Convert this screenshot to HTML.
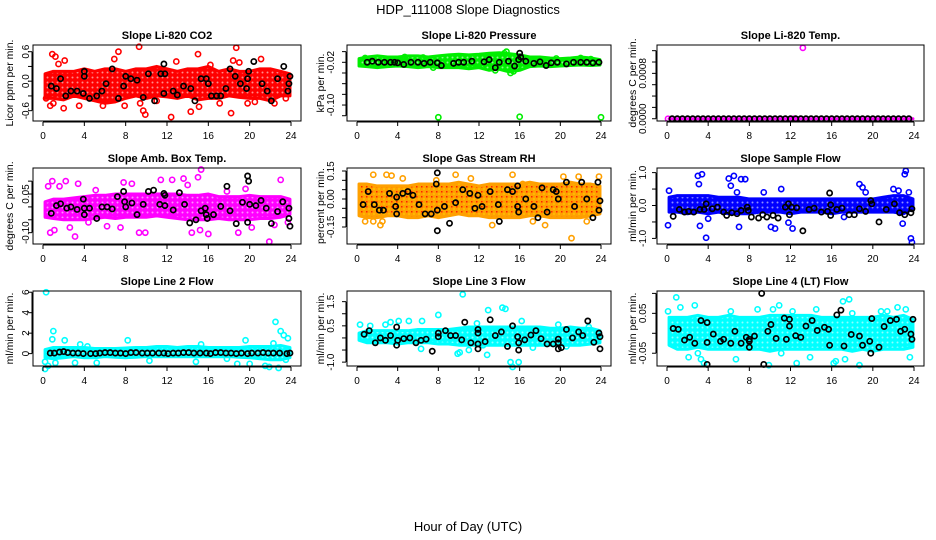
<!DOCTYPE html>
<html><head><meta charset="utf-8"><style>
html,body{margin:0;padding:0;background:#fff;}
svg{display:block;font-family:"Liberation Sans",sans-serif;}
</style></head><body>
<svg id="chart" width="936" height="540" viewBox="0 0 936 540">
<defs id="defs"></defs>
<text x="468" y="14" text-anchor="middle" font-size="13">HDP_111008  Slope Diagnostics</text>
<text x="468" y="531" text-anchor="middle" font-size="13">Hour of Day (UTC)</text>
</svg>
<script>
const xTicks=[0,4,8,12,16,20,24];
const bandHours=[0,1,2,3,4,5,6,7,8,9,10,11,12,13,14,15,16,17,18,19,20,21,22,23,24];

const co2Lo=[-0.35,-0.35,-0.38,-0.3,-0.35,-0.4,-0.45,-0.42,-0.35,-0.3,-0.35,-0.3,-0.32,-0.35,-0.3,-0.38,-0.35,-0.35,-0.3,-0.33,-0.35,-0.35,-0.4,-0.3,-0.3];
const co2Hi=[0.15,0.2,0.2,0.2,0.25,0.2,0.25,0.25,0.2,0.25,0.25,0.3,0.25,0.2,0.25,0.25,0.3,0.2,0.25,0.2,0.2,0.25,0.25,0.2,0.15];
const co2Out=[[0.9,0.55],[1.2,0.5],[0.7,-0.5],[1,-0.45],[2,-0.55],[1.5,0.35],[2.1,0.42],[3.5,-0.5],[6.9,0.45],[7.3,0.6],[7.9,-0.5],[9.3,0.7],[9.4,-0.45],[9.7,-0.6],[9.9,-0.68],[12.4,-0.73],[12.9,0.4],[14.3,-0.62],[15,0.55],[15.1,-0.52],[17.1,-0.45],[18.2,-0.65],[18.7,0.68],[18.4,0.42],[19,0.38],[21.1,0.45],[22.4,-0.45],[19.8,-0.45],[0.3,-0.35],[5.8,-0.5],[11,-0.4],[16.2,0.33],[20.5,-0.42],[23.5,-0.35]];
const co2Blk=[[0.8,-0.1],[1.3,-0.15],[1.7,0.05],[2.2,-0.3],[2.7,-0.2],[3.3,-0.2],[3.9,-0.25],[4,0.2],[4,0.1],[4.5,-0.35],[5.2,-0.3],[5.7,-0.2],[6.1,-0.05],[6.7,0.25],[7.3,-0.35],[7.8,-0.1],[8,0.1],[8.5,0.05],[9.1,0.02],[9.7,-0.33],[10.2,0.15],[10.8,-0.4],[11.4,0.15],[11.7,-0.25],[11.8,0.15],[11.7,0.35],[12.6,-0.2],[13,-0.28],[13.6,-0.1],[14.3,-0.15],[14.7,-0.4],[15.3,0.05],[15.8,0.05],[16,-0.05],[16.3,-0.3],[16.8,-0.3],[17.2,-0.3],[17.7,-0.15],[18.1,0.25],[18.6,0.1],[19.1,-0.05],[19.7,-0.15],[19.8,0.05],[19.9,0.2],[20.4,0.4],[21.2,-0.05],[21.7,-0.2],[22.1,-0.4],[22.7,0.05],[23.3,0.3],[23.7,-0.2],[23.8,-0.05],[23.9,0.1]];

const presLo=[-0.027,-0.028,-0.03,-0.028,-0.027,-0.028,-0.03,-0.028,-0.03,-0.03,-0.03,-0.032,-0.03,-0.035,-0.033,-0.038,-0.035,-0.028,-0.027,-0.028,-0.027,-0.026,-0.025,-0.026,-0.025];
const presHi=[-0.013,-0.01,-0.008,-0.01,-0.01,-0.008,-0.008,-0.01,-0.008,-0.006,-0.005,-0.006,-0.005,-0.003,-0.002,-0.004,-0.006,-0.01,-0.01,-0.012,-0.013,-0.012,-0.01,-0.012,-0.015];
const presOut=[[8,-0.123],[16,-0.122],[24,-0.123],[0.8,-0.012],[2.1,-0.012],[4.7,-0.01],[6.5,-0.011],[14.5,-0.003],[14.7,0.0],[13.6,-0.035],[15.1,-0.04],[15.4,-0.037],[7.5,-0.03],[19.6,-0.013],[22,-0.012],[23,-0.014]];
const presBlk=[[1,-0.02],[1.5,-0.018],[2.1,-0.02],[2.7,-0.02],[3.3,-0.02],[3.7,-0.02],[4,-0.021],[4.6,-0.024],[5.3,-0.02],[6,-0.02],[6.6,-0.022],[7.2,-0.02],[7.9,-0.021],[8.3,-0.026],[9.5,-0.022],[10,-0.02],[10.5,-0.02],[11.3,-0.018],[12.5,-0.019],[13,-0.015],[13.6,-0.03],[14,-0.02],[14.9,-0.018],[15.5,-0.027],[15.9,-0.015],[16,-0.003],[16.1,-0.01],[16.6,-0.018],[17.4,-0.022],[18,-0.019],[18.6,-0.026],[19.1,-0.021],[19.7,-0.02],[20.6,-0.023],[21.3,-0.02],[22,-0.02],[22.6,-0.02],[23.2,-0.021],[23.8,-0.02]];

const tempLo=[0,0,0,0,0,0,0,0,0,0,0,0,0,0,0,0,0,0,0,0,0,0,0,0,0];
const tempHi=[0,0,0,0,0,0,0,0,0,0,0,0,0,0,0,0,0,0,0,0,0,0,0,0,0];
const tempOut=[[13.2,0.00125],[0.1,0],[12.3,0]];
const tempBlk=[[0.5,0],[1,0],[1.5,0],[2,0],[2.5,0],[3,0],[3.5,0],[4,0],[4.5,0],[5,0],[5.5,0],[6,0],[6.5,0],[7,0],[7.5,0],[8,0],[8.5,0],[9,0],[9.5,0],[10,0],[10.5,0],[11,0],[11.5,0],[12,0],[12.5,0],[13,0],[13.5,0],[14,0],[14.5,0],[15,0],[15.5,0],[16,0],[16.5,0],[17,0],[17.5,0],[18,0],[18.5,0],[19,0],[19.5,0],[20,0],[20.5,0],[21,0],[21.5,0],[22,0],[22.5,0],[23,0],[23.5,0]];

const ambLo=[-0.04,-0.045,-0.05,-0.05,-0.05,-0.045,-0.04,-0.045,-0.04,-0.04,-0.04,-0.035,-0.04,-0.045,-0.05,-0.05,-0.05,-0.045,-0.05,-0.05,-0.05,-0.045,-0.045,-0.04,-0.03];
const ambHi=[0.02,0.03,0.03,0.035,0.04,0.045,0.045,0.05,0.05,0.05,0.05,0.05,0.05,0.05,0.045,0.045,0.05,0.04,0.04,0.04,0.045,0.04,0.04,0.04,0.03];
const ambOut=[[0.5,0.08],[0.9,0.1],[1.6,0.08],[2.2,0.1],[0.7,-0.1],[1.1,-0.09],[2.6,-0.08],[3.1,-0.115],[3.4,0.09],[4.4,-0.06],[5.1,0.065],[6.2,-0.075],[7.5,-0.08],[7.8,0.095],[8.6,0.09],[9.3,-0.1],[9.9,-0.1],[11.4,0.105],[12.5,0.105],[13.6,0.11],[14,0.085],[14.4,-0.1],[15,0.115],[15.3,0.145],[15.2,-0.09],[16,-0.105],[17.8,0.06],[18.9,-0.1],[19.6,0.07],[20.2,-0.08],[21.9,-0.135],[22.4,-0.07],[23,0.105],[23.7,-0.06]];
const ambBlk=[[0.8,-0.025],[1.3,0.005],[1.7,0.012],[2.3,-0.005],[2.7,0],[3.3,-0.01],[3.9,0.03],[4,-0.005],[4,-0.03],[4.5,-0.005],[5.2,-0.045],[5.7,0],[6.2,0],[6.7,-0.008],[7.2,0.04],[7.8,0.06],[7.9,0.02],[8,0],[8.6,0.015],[9.1,-0.03],[9.7,0.01],[10.2,0.06],[10.7,0.065],[11.3,0.01],[11.7,0.052],[11.8,0.045],[11.8,0.005],[12.6,-0.012],[13.2,0.055],[13.7,0.01],[14.2,-0.062],[14.8,-0.05],[15.3,-0.015],[15.7,-0.005],[15.8,-0.03],[15.9,-0.045],[16.5,-0.03],[17.2,0.002],[17.8,0.08],[18.1,-0.015],[18.7,-0.065],[19.3,0.018],[19.8,-0.06],[19.9,0.1],[19.8,0.12],[20,0.01],[20.6,0.005],[21.1,0.025],[21.6,-0.005],[22.1,-0.064],[22.7,-0.018],[23.2,0.02],[23.8,-0.005],[23.8,-0.045],[23.9,-0.075]];

const rhLo=[-0.09,-0.1,-0.1,-0.09,-0.09,-0.1,-0.1,-0.09,-0.1,-0.09,-0.08,-0.09,-0.09,-0.1,-0.1,-0.1,-0.1,-0.09,-0.09,-0.1,-0.1,-0.1,-0.1,-0.09,-0.08];
const rhHi=[0.08,0.08,0.07,0.07,0.07,0.07,0.08,0.08,0.08,0.08,0.09,0.08,0.07,0.08,0.08,0.08,0.08,0.09,0.08,0.08,0.08,0.09,0.08,0.08,0.07];
const rhOut=[[1.6,0.13],[2.9,0.13],[3.4,0.125],[4.5,0.11],[0.8,-0.12],[1.6,-0.12],[2.3,-0.14],[2.5,-0.12],[9.7,0.13],[7.8,0.1],[11.2,0.11],[15.3,0.13],[13.3,-0.14],[17.3,-0.12],[18.5,-0.14],[21.1,-0.21],[20.3,0.12],[21.8,0.12],[22.6,-0.12],[23.8,0.12],[16.3,0.08]];
const rhBlk=[[0.6,-0.03],[1.1,0.04],[1.7,-0.03],[2.2,-0.06],[2.6,-0.06],[3.2,0.03],[3.8,-0.04],[3.9,0.01],[3.9,-0.08],[4.5,0.03],[5,0.04],[5.5,0.02],[6.1,-0.03],[6.7,-0.08],[7.3,-0.08],[7.9,0.14],[7.8,0.08],[7.9,-0.06],[7.9,-0.17],[8.6,-0.04],[9.1,-0.13],[9.7,-0.02],[10.4,0.05],[11.1,0.03],[11.6,-0.05],[11.9,0.02],[12.3,-0.04],[13.1,0.04],[13.9,-0.03],[14,-0.12],[14.8,0.05],[15.3,0.04],[15.8,0.07],[15.8,-0.04],[15.9,-0.07],[16.6,0.0],[17.4,-0.04],[17.8,-0.1],[18.2,0.06],[18.7,-0.07],[19.3,0.05],[19.6,0.04],[19.8,0.0],[20.6,0.09],[21.4,-0.04],[22.1,0.09],[22.6,0.0],[23.2,-0.1],[23.7,0.09],[23.8,-0.06],[23.9,-0.01]];

const sfLo=[-0.2,-0.2,-0.25,-0.2,-0.25,-0.2,-0.25,-0.25,-0.25,-0.2,-0.2,-0.2,-0.25,-0.2,-0.2,-0.2,-0.25,-0.2,-0.2,-0.2,-0.2,-0.2,-0.2,-0.25,-0.1];
const sfHi=[0.25,0.3,0.3,0.3,0.3,0.25,0.25,0.25,0.2,0.2,0.2,0.2,0.2,0.2,0.2,0.2,0.2,0.2,0.2,0.2,0.2,0.25,0.3,0.3,0.2];
const sfOut=[[0.1,-0.6],[0.2,0.45],[3,0.9],[3.1,0.65],[3.4,0.95],[3.2,-0.62],[3.8,-0.98],[4,-0.4],[6,0.82],[6.2,0.6],[6.5,0.9],[6.8,0.4],[7.2,0.8],[7.6,0.8],[7,-0.65],[10.1,-0.65],[10.5,-0.7],[11.1,0.5],[11.8,-0.52],[12.2,-0.7],[9.4,0.4],[18.7,0.65],[19,0.55],[19.3,0.4],[22,0.5],[22.5,0.45],[23.1,0.95],[23.2,1.05],[23.5,0.4],[23.7,-1.0],[23.8,-1.12],[22.9,-0.55],[17.2,-0.35]];
const sfBlk=[[0.6,-0.33],[1.2,-0.12],[1.7,-0.2],[2.1,-0.18],[2.6,-0.2],[3.2,-0.12],[3.6,-0.12],[3.8,0.05],[4.4,-0.1],[4.9,-0.05],[5.5,-0.2],[5.8,-0.3],[6.3,-0.22],[6.8,-0.25],[7.2,-0.15],[7.8,-0.05],[7.9,-0.15],[8.2,-0.35],[8.9,-0.38],[9.3,-0.28],[9.7,-0.35],[10.3,-0.3],[10.8,-0.38],[11.5,-0.05],[11.8,0.05],[11.9,-0.28],[12.1,-0.05],[12.6,-0.07],[13.2,-0.77],[13.8,-0.12],[14.3,-0.08],[15,-0.2],[15.6,-0.18],[15.8,0.38],[15.9,0.02],[15.9,-0.3],[16.5,-0.12],[17,-0.08],[17.7,-0.28],[18.2,-0.28],[18.7,-0.1],[19.3,-0.18],[19.8,0.15],[19.9,0.05],[20.6,-0.5],[21.3,-0.12],[22.1,0.05],[22.6,-0.22],[23.1,-0.28],[23.7,-0.22],[23.8,-0.1]];

const l2Lo=[-0.4,-0.5,-0.4,-0.3,-0.4,-0.4,-0.3,-0.35,-0.4,-0.35,-0.3,-0.3,-0.3,-0.3,-0.3,-0.3,-0.3,-0.3,-0.3,-0.35,-0.4,-0.5,-0.6,-0.6,-0.4];
const l2Hi=[0.4,0.6,0.6,0.6,0.6,0.5,0.5,0.5,0.55,0.6,0.6,0.7,0.7,0.6,0.7,0.7,0.6,0.6,0.6,0.6,0.7,0.7,0.7,0.8,0.6];
const l2Out=[[0.3,6],[1,2.2],[0.9,1.4],[0.2,-1.5],[0.5,-1.2],[0.2,-0.8],[1.2,-0.9],[2.1,1.3],[3.1,-0.9],[3.6,0.9],[4.3,0.7],[5.2,-0.9],[8.2,1.3],[10.3,-0.7],[14.8,-0.8],[15.3,0.9],[17.8,-0.5],[18.8,-1],[19.6,1.3],[20,-1],[21.5,-1.2],[22.5,3.1],[23,2.2],[23.3,1.8],[23.7,1.5],[22.8,-1.4],[22.3,1],[21.9,-1.3],[23.5,-0.6]];
const l2Blk=[[0.7,0.05],[1.1,0.05],[1.6,0.15],[2,0.2],[2.4,0.1],[2.9,0.05],[3.4,0.05],[3.9,0],[4.6,0],[5.1,0],[5.5,0.05],[6,0.1],[6.5,0.1],[7,0.05],[7.5,0.05],[8,0],[8.5,0.1],[9,0.1],[9.6,0.05],[10.1,0.05],[10.6,0.05],[11.2,0.05],[11.7,0.05],[12.1,0],[12.6,0.05],[13.1,0.05],[13.6,0.1],[14.1,0.1],[14.6,0.05],[15.2,0.05],[15.8,0.05],[16.2,0],[16.7,0.1],[17.2,0.1],[17.7,0.05],[18.2,0.05],[18.7,0],[19.2,0.05],[19.8,0],[20.2,0.05],[20.8,0.05],[21.3,0.1],[21.8,0.05],[22.3,0.05],[22.9,0.05],[23.6,0],[23.9,0.05]];

const l3Lo=[-0.1,-0.2,-0.2,-0.2,-0.25,-0.2,-0.2,-0.2,-0.25,-0.25,-0.3,-0.3,-0.3,-0.3,-0.3,-0.3,-0.3,-0.3,-0.3,-0.3,-0.3,-0.3,-0.3,-0.25,-0.2];
const l3Hi=[0.2,0.3,0.3,0.3,0.3,0.3,0.35,0.35,0.35,0.35,0.4,0.45,0.45,0.45,0.45,0.45,0.45,0.45,0.45,0.4,0.4,0.45,0.4,0.4,0.3];
const l3Out=[[0.3,0.55],[1.3,0.5],[2.8,0.55],[3.3,0.65],[4.1,0.7],[5.1,0.7],[6.4,0.7],[8,0.95],[10.4,1.8],[11,-0.5],[11.8,0.6],[12.4,-0.3],[12.8,-0.7],[12.9,1.15],[14.3,1.25],[14.6,1.2],[15.1,-1.0],[15.3,-1.2],[15.9,-1.0],[16.2,0.7],[9.9,-0.65],[10.1,-0.6],[6.3,-0.45],[19.8,0.55],[20.6,-0.35],[22.8,0.45],[17.3,-0.4]];
const l3Blk=[[0.7,0.15],[1.2,0.3],[1.8,-0.2],[2.3,0.0],[2.8,-0.1],[3.3,0.1],[3.9,0.45],[3.9,-0.3],[4,-0.1],[4.6,-0.03],[5.2,0],[5.8,-0.2],[6.3,-0.1],[6.8,-0.05],[7.4,-0.55],[8,0.05],[8,0.2],[8.7,0.3],[9.2,0.1],[9.7,0.1],[10.3,-0.08],[10.6,0.65],[11.2,-0.2],[11.9,0.35],[11.9,0.2],[11.9,-0.45],[11.9,-0.25],[12.6,-0.15],[13.1,0.75],[13.6,0.1],[14.2,0.25],[14.8,-0.35],[15.3,0.5],[15.8,0.05],[15.9,-0.2],[15.9,-0.5],[16.5,-0.08],[17.1,0.12],[17.6,0.3],[18.1,-0.03],[18.7,-0.25],[19.3,-0.25],[19.8,-0.05],[19.8,-0.2],[19.8,-0.45],[20.1,-0.4],[20.6,0.35],[21.2,0.0],[21.8,0.25],[22.2,0.1],[22.7,0.7],[23.3,-0.18],[23.8,0.2],[23.9,0.05],[23.9,-0.45]];

const l4Lo=[-0.03,-0.04,-0.04,-0.035,-0.04,-0.04,-0.04,-0.04,-0.04,-0.04,-0.045,-0.04,-0.04,-0.04,-0.04,-0.04,-0.04,-0.04,-0.045,-0.04,-0.045,-0.04,-0.04,-0.04,-0.035];
const l4Hi=[0.04,0.04,0.04,0.045,0.04,0.04,0.045,0.04,0.04,0.04,0.045,0.045,0.045,0.045,0.045,0.04,0.04,0.04,0.04,0.04,0.04,0.045,0.04,0.045,0.035];
const l4Out=[[0.1,0.055],[0.9,0.09],[1.3,0.065],[1.1,-0.035],[2.1,-0.06],[2.7,0.07],[3,-0.05],[3.3,-0.065],[3.6,-0.075],[6.2,0.055],[6.7,-0.065],[8.8,0.06],[9.9,-0.08],[10.3,0.06],[10.9,0.07],[11.1,-0.05],[12.2,0.055],[12.6,-0.075],[14.5,0.06],[13.9,-0.06],[16.2,-0.075],[16.4,-0.07],[17.1,0.08],[17.7,0.085],[17.3,-0.065],[18.7,-0.08],[18,0.05],[20.8,0.055],[21.4,0.055],[22.4,0.065],[23.6,-0.06],[23.2,0.06]];
const l4Blk=[[0.6,0.012],[1.1,0.01],[1.7,-0.017],[2.2,-0.01],[2.7,-0.025],[3.3,0.032],[3.9,-0.078],[3.9,0.027],[3.9,-0.023],[4.5,-0.002],[5.2,-0.02],[5.5,-0.015],[6.2,-0.025],[6.6,0.005],[7.2,-0.025],[7.7,-0.01],[8,-0.02],[8,-0.035],[8,-0.015],[8.5,-0.007],[9.2,0.1],[9.4,-0.078],[9.8,0.005],[10.1,0.022],[10.6,-0.013],[11.4,0.038],[11.6,-0.015],[11.9,0.035],[11.9,0.018],[12.5,-0.006],[13,-0.01],[13.5,0.018],[14.1,0.032],[14.6,0.007],[15.3,0.015],[15.7,0.01],[15.8,-0.03],[16.5,0.046],[16.9,0.058],[17.2,-0.032],[17.9,-0.003],[18.7,-0.007],[19,-0.03],[19.7,-0.02],[19.8,-0.05],[19.9,0.037],[20.6,-0.035],[21.1,0.017],[21.7,0.032],[22.3,0.035],[22.7,0.005],[23.1,0.01],[23.7,-0.002],[23.8,-0.015],[23.9,0.035]];

const NS='http://www.w3.org/2000/svg';
const svg=document.getElementById('chart');
const defs=document.getElementById('defs');
function mk(tag,attrs,parent){const e=document.createElementNS(NS,tag);for(const k in attrs)e.setAttribute(k,attrs[k]);(parent||svg).appendChild(e);return e;}

const panels=[
 {name:'co2',title:'Slope Li-820 CO2',ylab:'Licor ppm per min.',col:0,row:0,ymin:-0.81,ymax:0.736,ticks:[-0.6,-0.3,0,0.3,0.6],labels:[[-0.6,'-0.6'],[0,'0.0'],[0.6,'0.6']],color:'#ff0000',lo:co2Lo,hi:co2Hi,out:co2Out,blk:co2Blk},
 {name:'pressure',title:'Slope Li-820 Pressure',ylab:'kPa per min.',col:1,row:0,ymin:-0.1299,ymax:0.0124,ticks:[0,-0.02,-0.04,-0.06,-0.08,-0.1,-0.12],labels:[[-0.02,'-0.02'],[-0.1,'-0.10']],color:'#00ee00',lo:presLo,hi:presHi,out:presOut,blk:presBlk},
 {name:'temp',title:'Slope Li-820 Temp.',ylab:'degrees C per min.',col:2,row:0,ymin:-0.00004,ymax:0.0013,ticks:[0,0.0002,0.0004,0.0006,0.0008,0.001,0.0012],labels:[[0,'0.0000'],[0.0008,'0.0008']],color:'#ff00ff',lo:tempLo,hi:tempHi,out:tempOut,blk:tempBlk},
 {name:'amb-box-temp',title:'Slope Amb. Box Temp.',ylab:'degrees C per min.',col:0,row:1,ymin:-0.144,ymax:0.151,ticks:[-0.1,-0.05,0,0.05,0.1],labels:[[-0.1,'-0.10'],[0.05,'0.05']],color:'#ff00ff',lo:ambLo,hi:ambHi,out:ambOut,blk:ambBlk},
 {name:'gas-stream-rh',title:'Slope Gas Stream RH',ylab:'percent per min.',col:1,row:1,ymin:-0.241,ymax:0.166,ticks:[-0.15,-0.1,-0.05,0,0.05,0.1,0.15],labels:[[-0.15,'-0.15'],[0,'0.00'],[0.15,'0.15']],color:'#ffa000',lo:rhLo,hi:rhHi,out:rhOut,blk:rhBlk},
 {name:'sample-flow',title:'Slope Sample Flow',ylab:'ml/min per min.',col:2,row:1,ymin:-1.17,ymax:1.14,ticks:[-1,-0.5,0,0.5,1],labels:[[-1,'-1.0'],[0,'0.0'],[1,'1.0']],color:'#0000ff',lo:sfLo,hi:sfHi,out:sfOut,blk:sfBlk},
 {name:'line2-flow',title:'Slope Line 2 Flow',ylab:'ml/min per min.',col:0,row:2,ymin:-1.21,ymax:6.12,ticks:[0,2,4,6],labels:[[0,'0'],[2,'2'],[4,'4'],[6,'6']],color:'#00ffff',lo:l2Lo,hi:l2Hi,out:l2Out,blk:l2Blk},
 {name:'line3-flow',title:'Slope Line 3 Flow',ylab:'ml/min per min.',col:1,row:2,ymin:-1.16,ymax:1.94,ticks:[-1,-0.5,0,0.5,1,1.5],labels:[[-1,'-1.0'],[0.5,'0.5'],[1.5,'1.5']],color:'#00ffff',lo:l3Lo,hi:l3Hi,out:l3Out,blk:l3Blk},
 {name:'line4-flow',title:'Slope Line 4 (LT) Flow',ylab:'ml/min per min.',col:2,row:2,ymin:-0.082,ymax:0.106,ticks:[-0.05,0,0.05,0.1],labels:[[-0.05,'-0.05'],[0.05,'0.05']],color:'#00ffff',lo:l4Lo,hi:l4Hi,out:l4Out,blk:l4Blk}
];
const colL=[33,347,657],colR=[301,611,924];
const rowT=[45,168,291],rowB=[121,244,366];
const tickLabX=[25,330,642],titleX=[9,320,632];

panels.forEach((p,pi)=>{
 const L=colL[p.col],R=colR[p.col],T=rowT[p.row],B=rowB[p.row];
 // texture pattern mimicking overlapping open circles
 const pat=mk('pattern',{id:'pat'+pi,width:5,height:5,patternUnits:'userSpaceOnUse'},defs);
 mk('rect',{x:0,y:0,width:5,height:5,fill:p.color},pat);
 mk('circle',{cx:2.5,cy:2.5,r:1,fill:'#fff','fill-opacity':p.name==='gas-stream-rh'?'0':'0.55'},pat);
 if(p.name==='gas-stream-rh'){mk('rect',{x:1,y:1,width:1.5,height:1.5,fill:'#ff2000'},pat);mk('rect',{x:3.5,y:3.5,width:1,height:1,fill:'#ffff00'},pat);}
 const g=mk('g',{});
 
 
 const xs=h=>L+10+(R-L-20)*h/24;
 const ys=v=>B-(v-p.ymin)/(p.ymax-p.ymin)*(B-T);
 const t=mk('text',{x:(L+R)/2,y:T-6,'text-anchor':'middle','font-size':'11','font-weight':'bold'},g);
 t.textContent=p.title;
 
 
 const yl=mk('text',{x:0,y:0,'text-anchor':'middle','font-size':'10.5',transform:`translate(${titleX[p.col]+4},${(T+B)/2}) rotate(-90)`},g);
 yl.textContent=p.ylab;
 
 
 let pts=[];
 bandHours.forEach((h,i)=>{const hh=Math.min(Math.max(h,0.2),23.9);pts.push(xs(hh)+','+ys(p.hi[i]));});
 for(let i=bandHours.length-1;i>=0;i--){const hh=Math.min(Math.max(bandHours[i],0.2),23.9);pts.push(xs(hh)+','+ys(p.lo[i]));}
 const band=mk('polygon',{points:pts.join(' '),fill:'url(#pat'+pi+')',stroke:p.color,'stroke-width':'3','stroke-linejoin':'round'},g);
 
 
 p.out.forEach(d=>{
  const c=mk('circle',{cx:xs(d[0]),cy:ys(d[1]),r:2.6,fill:'none',stroke:p.color,'stroke-width':'1.6'},g);
  
  
 });
 p.blk.forEach(d=>{
  const c=mk('circle',{cx:xs(d[0]),cy:ys(d[1]),r:2.6,fill:'none',stroke:'#000','stroke-width':'1.7'},g);
  
  
 });
 const box=mk('rect',{x:L,y:T,width:R-L,height:B-T,fill:'none',stroke:'#000','stroke-width':'1'},g);
 
 
 const xa=mk('g',{},g);
 
 
 mk('line',{x1:xs(0),x2:xs(24),y1:B+1,y2:B+1,stroke:'#000'},xa);
 xTicks.forEach(h=>{
  mk('line',{x1:xs(h),x2:xs(h),y1:B+1,y2:B+5,stroke:'#000'},xa);
  const tl=mk('text',{x:xs(h),y:B+18,'text-anchor':'middle','font-size':'10'},xa);
  tl.textContent=String(h);
  
  
 });
 const ya=mk('g',{},g);
 
 
 const tv=p.ticks.map(ys);
 mk('line',{x1:L-1,x2:L-1,y1:Math.min(...tv),y2:Math.max(...tv),stroke:'#000'},ya);
 p.ticks.forEach(v=>mk('line',{x1:L-1,x2:L-5,y1:ys(v),y2:ys(v),stroke:'#000'},ya));
 p.labels.forEach(l=>{
  const tl=mk('text',{x:0,y:0,'text-anchor':'middle','font-size':'10',transform:`translate(${tickLabX[p.col]+4},${ys(l[0])}) rotate(-90)`},ya);
  tl.textContent=l[1];
  
  
 });
 svg.appendChild(g);
});
</script>
</body></html>
